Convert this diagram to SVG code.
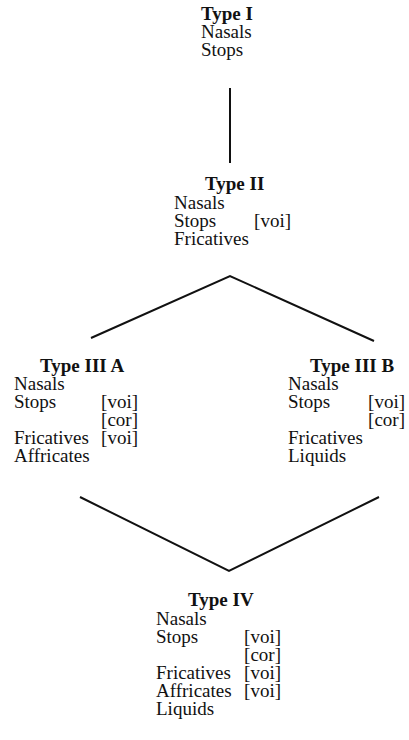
<svg xmlns="http://www.w3.org/2000/svg" width="409" height="740" viewBox="0 0 409 740">
<style>
text{font-family:"Liberation Serif","Times New Roman",serif;font-size:19px;fill:#111}
.h{font-weight:bold}
.r{text-anchor:end}
.c{stroke:#111;stroke-width:2;fill:none;stroke-linejoin:miter}
</style>
<rect width="409" height="740" fill="#fff"/>
<g id="connectors">
<line class="c" x1="230" y1="88" x2="230" y2="163"/>
<polyline class="c" points="91,338 230,276 374,341"/>
<polyline class="c" points="80,497 229,571 379,497"/>
</g>
<g id="type1">
<text class="h" x="201" y="20">Type I</text>
<text x="201" y="38">Nasals</text>
<text x="201" y="56">Stops</text>
</g>
<g id="type2">
<text class="h" x="205" y="190">Type II</text>
<text x="174" y="209">Nasals</text>
<text x="174" y="227">Stops</text>
<text class="r" x="291" y="227">[voi]</text>
<text x="174" y="245">Fricatives</text>
</g>
<g id="type3a">
<text class="h" x="40" y="372">Type III A</text>
<text x="14" y="390">Nasals</text>
<text x="14" y="408">Stops</text>
<text class="r" x="138" y="408">[voi]</text>
<text class="r" x="138" y="426">[cor]</text>
<text x="14" y="444">Fricatives</text>
<text class="r" x="138" y="444">[voi]</text>
<text x="14" y="462">Affricates</text>
</g>
<g id="type3b">
<text class="h" x="310" y="372">Type III B</text>
<text x="288" y="390">Nasals</text>
<text x="288" y="408">Stops</text>
<text class="r" x="405" y="408">[voi]</text>
<text class="r" x="405" y="426">[cor]</text>
<text x="288" y="444">Fricatives</text>
<text x="288" y="462">Liquids</text>
</g>
<g id="type4">
<text class="h" x="188" y="606">Type IV</text>
<text x="156" y="625">Nasals</text>
<text x="156" y="643">Stops</text>
<text class="r" x="281" y="643">[voi]</text>
<text class="r" x="281" y="661">[cor]</text>
<text x="156" y="679">Fricatives</text>
<text class="r" x="281" y="679">[voi]</text>
<text x="156" y="697">Affricates</text>
<text class="r" x="281" y="697">[voi]</text>
<text x="156" y="715">Liquids</text>
</g>
</svg>
